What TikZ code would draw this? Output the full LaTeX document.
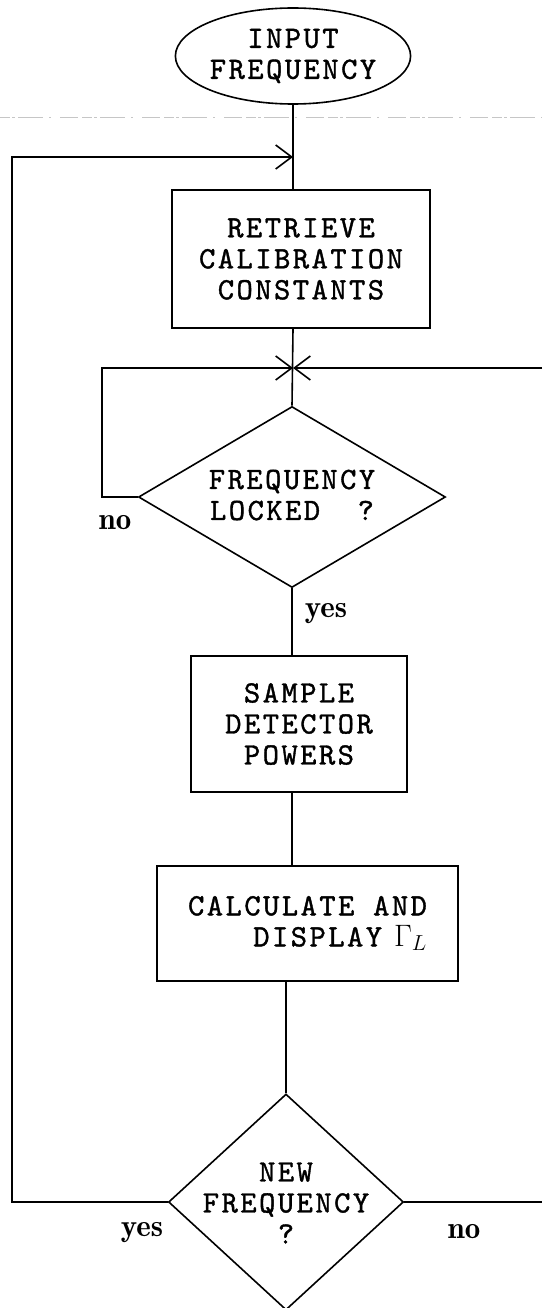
\RequirePackage{fix-cm}
\documentclass[tikz,border=0pt]{standalone}
\usepackage{fontspec}
\usetikzlibrary{shapes.geometric,arrows.meta}
\newfontfamily\twfam{lmmono10-regular}[Extension=.otf, LetterSpace=8, FakeBold=1.2]
\newfontfamily\lblfam{lmromandemi10-regular}[Extension=.otf]
\newcommand{\twfont}{\twfam\fontsize{31}{31}\selectfont}
\newcommand{\lblfont}{\lblfam\fontsize{31}{31}\selectfont}
\tikzset{
  flow/.style={line width=1.6pt, black},
  barb/.style={-{Straight Barb[length=16pt,width=24pt,line width=1.6pt]}},
  procbox/.style={draw, line width=1.6pt, rectangle, inner sep=0pt, align=center, font=\twfont},
  decbox/.style={draw, line width=1.6pt, diamond, inner sep=0pt},
  termbox/.style={draw, line width=1.6pt, ellipse, inner sep=0pt, align=center, font=\twfont},
  lbl/.style={font=\lblfont, inner sep=0pt},
  dtext/.style={font=\twfont, align=center, inner sep=0pt}
}
\begin{document}
\begin{tikzpicture}[x=1pt,y=-1pt]
\useasboundingbox (0,0) rectangle (542,1308);
% faint scan line
\draw[gray!45, line width=0.5pt, dash pattern=on 10pt off 2pt on 3pt off 3pt on 25pt off 6pt on 2pt off 9pt on 18pt off 4pt] (0,117) -- (542,117);

\node[termbox, minimum width=232pt, minimum height=96pt] (ell) at (293,56) {INPUT\\FREQUENCY};
\node[procbox, minimum width=258pt, minimum height=138pt] (box1) at (301,259) {RETRIEVE\\CALIBRATION\\CONSTANTS};
\coordinate (J) at (293,368);
\node[decbox, minimum width=307pt, minimum height=181pt] (dia1) at (292,497) {};
\node[dtext] (t1) at (292,497) {FREQUENCY\\\rlap{LOCKED}\phantom{FREQUENC}?};
\node[procbox, minimum width=301pt, minimum height=115pt, align=right] (box3) at (307.5,923.5) {CALCULATE AND\\DISPLAY\hspace{12pt}$\Gamma_L$};
\node[procbox, minimum width=216pt, minimum height=136pt] (box2) at (299,724) {SAMPLE\\DETECTOR\\POWERS};
\node[decbox, minimum width=235pt, minimum height=216pt] (dia2) at (286,1202) {};
\node[dtext] (t2) at (286,1203) {NEW\\FREQUENCY\\?};

\coordinate (tl) at (12,157);
\coordinate (il) at (102,368);
\coordinate (rt) at (542,368);
\coordinate (rb) at (542,1202);

% main spine
\draw[flow] (ell.south) -- (ell.south |- box1.north);
\draw[flow] (J |- box1.south) -- (dia1.north);
\draw[flow] (dia1.south) -- (dia1.south |- box2.north);
\draw[flow] (dia1.south |- box2.south) -- (dia1.south |- box3.north);
\draw[flow] (dia2.north |- box3.south) -- (dia2.north);

% loops
\draw[flow, barb] (dia2.west) -| (tl) -- (tl -| ell.south);
\draw[flow, barb] (dia1.west) -| (il) -- (J);
\draw[flow, barb] (rt) -- (J);
\draw[flow] (dia2.east) -- (rb);

% labels
\node[lbl] (no1) at (115,523) {no};
\node[lbl] (yes1) at (326,614) {yes};
\node[lbl] (yes2) at (142,1233) {yes};
\node[lbl] (no2) at (464,1232) {no};
\end{tikzpicture}
\end{document}
